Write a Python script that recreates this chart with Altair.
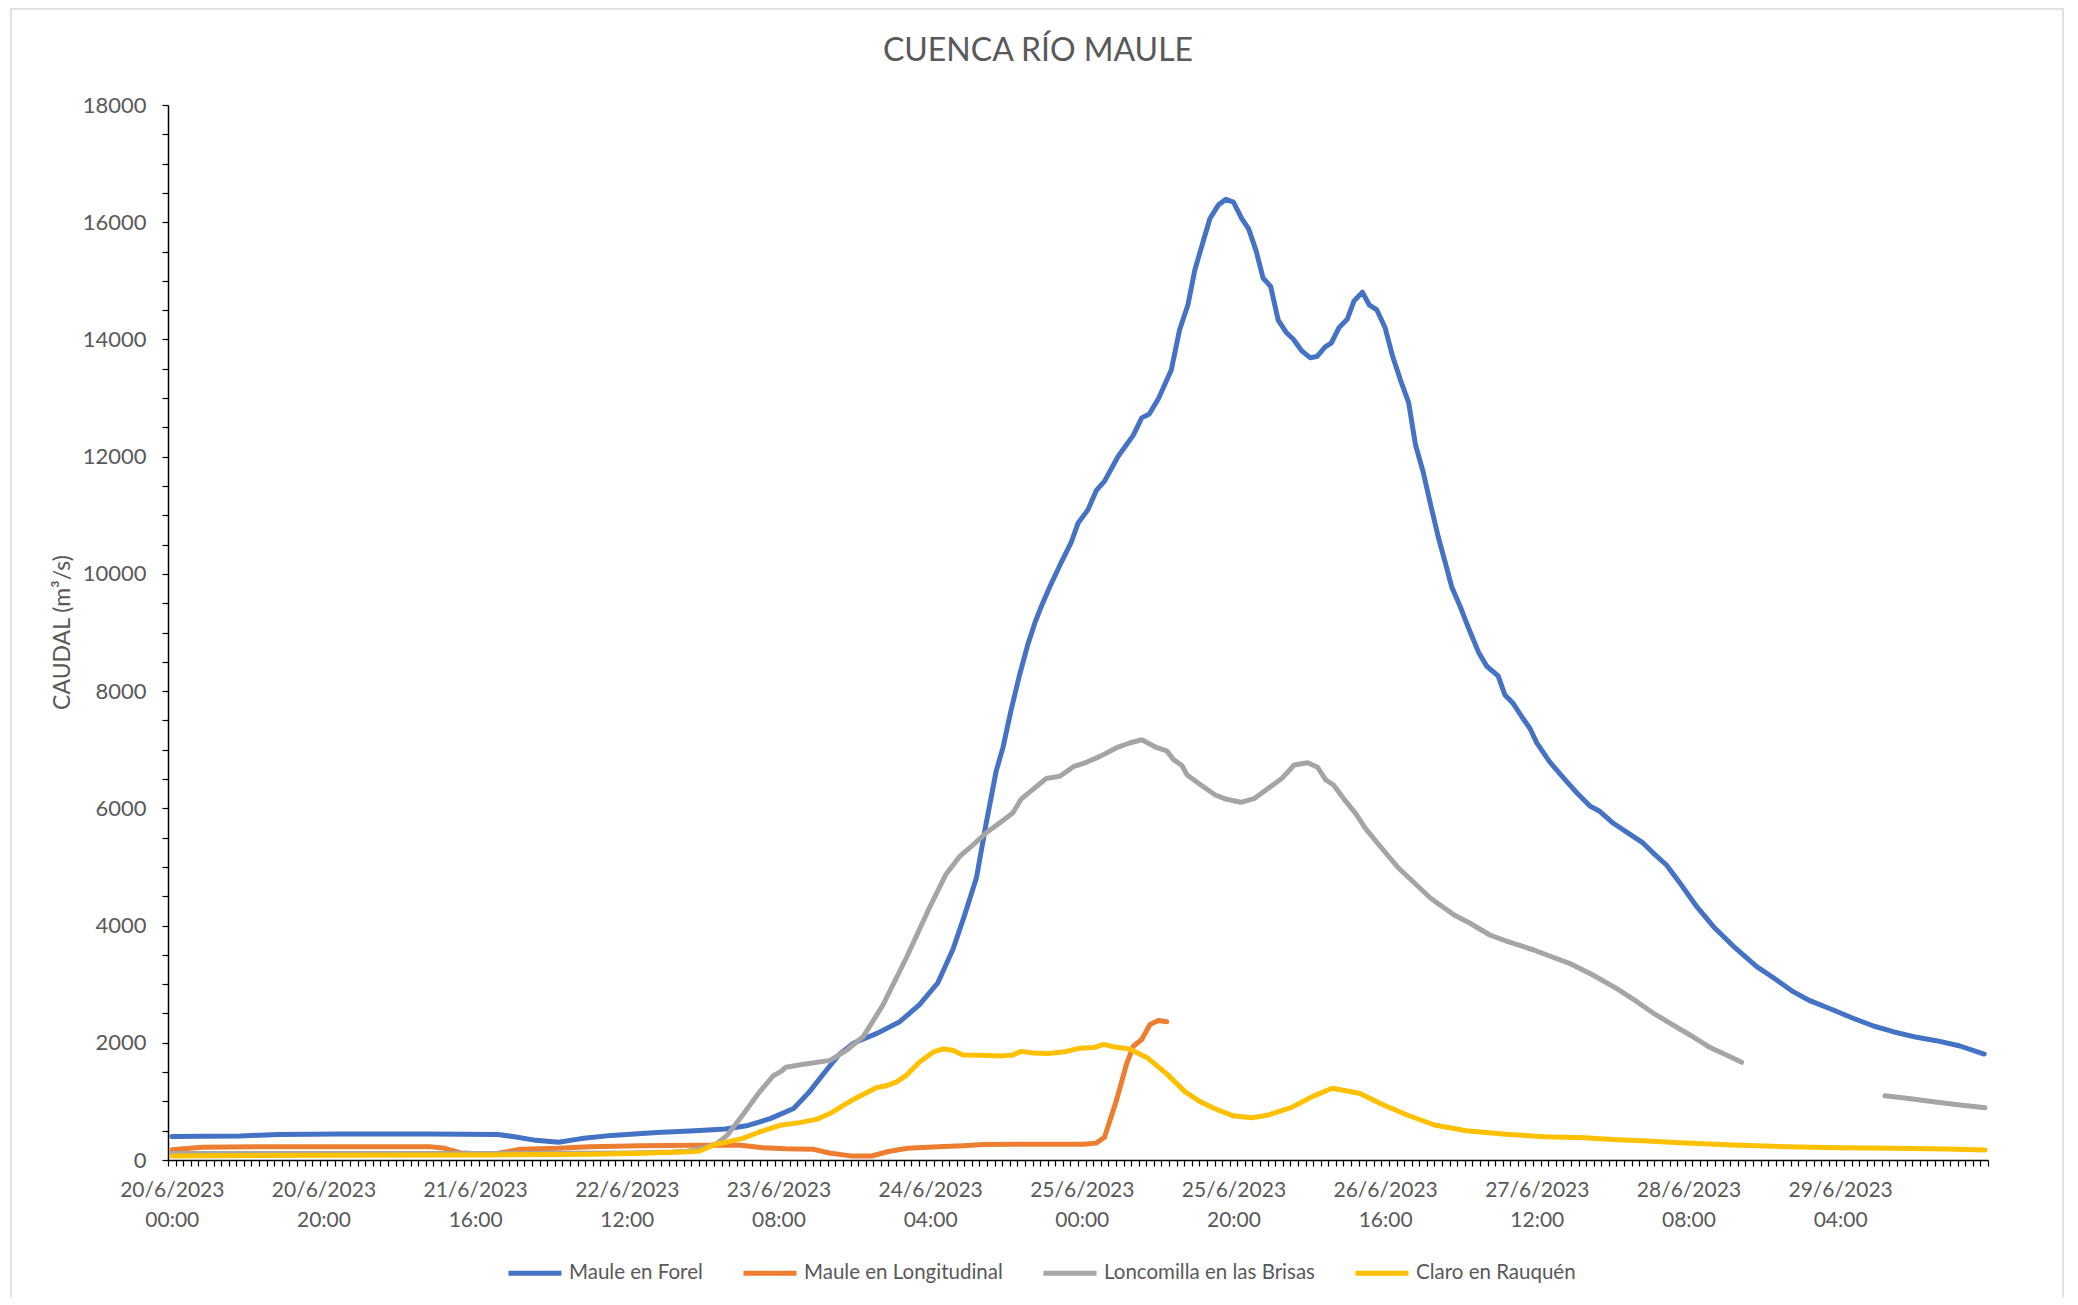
import json
import altair as alt
import pandas as pd

TITLE = "CUENCA RÍO MAULE"
Y_TITLE = "CAUDAL (m³/s)"
SERIES = ["Maule en Forel", "Maule en Longitudinal", "Loncomilla en las Brisas", "Claro en Rauquén"]
COLORS = ["#4472C4", "#ED7D31", "#A5A5A5", "#FFC000"]

# x tick labels (every 20 hourly categories)
X_LABEL_DATES = ["20/6/2023", "20/6/2023", "21/6/2023", "22/6/2023", "23/6/2023", "24/6/2023",
                 "25/6/2023", "25/6/2023", "26/6/2023", "27/6/2023", "28/6/2023", "29/6/2023"]
X_LABEL_TIMES = ["00:00", "20:00", "16:00", "12:00", "08:00", "04:00",
                 "00:00", "20:00", "16:00", "12:00", "08:00", "04:00"]

# hours since 20/6/2023 00:00  -> caudal (m3/s)
FOREL_H = [0, 9, 14, 22, 34, 43, 45, 48, 51, 54, 58, 64, 69, 73, 76, 79, 82, 84, 86, 88, 90, 93, 96,
           98.6, 101, 103, 104.6, 106.1, 107.4, 108.7, 109.6, 110.7, 111.8, 112.9, 113.9, 114.7, 115.8,
           117.1, 118.6, 119.5, 120.8, 121.9, 123, 124.8, 126.8, 127.9, 128.9, 130.1, 131.8, 132.9,
           134, 134.9, 136, 136.9, 138, 139, 140, 141.1, 142, 143, 143.9, 144.9, 145.9, 147, 147.9,
           149, 150.1, 151, 152.1, 152.9, 153.9, 155, 155.9, 157, 157.9, 158.9, 160, 161, 162, 163.1,
           164, 165, 166.1, 167, 168.1, 168.8, 169.9, 171, 172.3, 173.4, 174.9, 175.8, 176.9, 178,
           179.1, 180, 181.7, 183.9, 185.3, 187, 188.3, 190.1, 192.1, 194, 195.4, 197.1, 198.9, 201.1,
           203.3, 205.9, 209, 211.2, 213.8, 216, 219.1, 221.7, 224.4, 227, 230.1, 232.7, 235.8, 239]
FOREL_V = [400, 410, 435, 442, 442, 436, 400, 335, 302, 365, 420, 470, 500, 530, 590, 710, 880, 1150,
           1480, 1800, 2000, 2160, 2360, 2650, 3020, 3590, 4200, 4810, 5750, 6630, 7036, 7690, 8279,
           8802, 9195, 9457, 9784, 10144, 10536, 10863, 11092, 11419, 11582, 12007, 12367, 12662,
           12727, 12989, 13479, 14166, 14591, 15180, 15671, 16063, 16292, 16390, 16344, 16063, 15886,
           15507, 15049, 14905, 14330, 14114, 14003, 13806, 13689, 13708, 13872, 13937, 14199, 14343,
           14657, 14807, 14591, 14506, 14199, 13708, 13316, 12923, 12204, 11746, 11125, 10634, 10111,
           9771, 9444, 9076, 8669, 8424, 8261, 7934, 7787, 7567, 7362, 7118, 6791, 6465, 6262, 6040,
           5950, 5745, 5574, 5410, 5233, 5033, 4721, 4322, 3981, 3650, 3298, 3110, 2872, 2718, 2559,
           2418, 2286, 2189, 2093, 2036, 1945, 1808]

LONGIT_H = [0, 4, 12, 23, 34, 36, 38, 41, 43, 46, 51, 55, 62, 69, 75, 78, 81, 84.5, 86.7, 89.5, 92.3,
            94.5, 97, 101, 104.4, 107, 113.6, 120.2, 121.9, 123, 124.6, 125.9, 126.8, 127.9, 129,
            130.1, 131.2]
LONGIT_V = [175, 216, 228, 228, 228, 200, 125, 102, 114, 182, 200, 228, 245, 250, 250, 210, 190, 185,
            120, 70, 68, 145, 200, 225, 245, 265, 268, 268, 288, 389, 1030, 1638, 1942, 2056, 2312,
            2380, 2360]

LONCO_H1 = [0, 20, 40, 60, 66, 68, 70, 72, 73.3, 75.4, 77.5, 79.3, 80.3, 81, 83.1, 86.8, 89, 91.2,
            93.8, 96.9, 99.9, 102.1, 103.9, 105.7, 107.4, 109.2, 110.9, 112, 113.6, 115.3, 117.1,
            118.9, 120.6, 122.4, 124.6, 126.3, 127.9, 129.9, 131.2, 132.1, 133.2, 133.9, 135.7, 137.6,
            139.1, 141, 142.8, 144.6, 146.4, 148, 149.8, 151.1, 152.2, 153.2, 154.5, 156.1, 157.4,
            159.2, 161.8, 163.9, 166, 169.1, 171.2, 173.8, 176.2, 179.6, 181.7, 184.3, 187.4, 190.5,
            193.2, 195.4, 197.6, 200.2, 202.8, 205, 207]
LONCO_V1 = [110, 110, 110, 120, 135, 150, 200, 290, 430, 790, 1160, 1435, 1507, 1583, 1630, 1700,
            1873, 2109, 2650, 3459, 4301, 4876, 5180, 5381, 5584, 5753, 5921, 6158, 6327, 6509, 6548,
            6710, 6785, 6886, 7035, 7115, 7170, 7035, 6980, 6831, 6731, 6569, 6398, 6228, 6154, 6103,
            6171, 6342, 6512, 6739, 6779, 6700, 6483, 6398, 6171, 5915, 5659, 5375, 4977, 4721, 4466,
            4180, 4039, 3839, 3725, 3583, 3481, 3356, 3156, 2929, 2701, 2503, 2332, 2133, 1923, 1791,
            1667]
LONCO_H2 = [225.9, 228.8, 232.3, 235.8, 239.1]
LONCO_V2 = [1097, 1053, 995, 938, 892]

CLARO_H = [0, 20, 40, 55, 62, 68.3, 69.6, 71.8, 73, 75.3, 77.5, 80.2, 82.8, 85, 86.8, 88.5, 90.3,
           92.9, 94.2, 95.6, 96.9, 98.6, 100.4, 101.7, 103, 104.3, 107, 109.2, 110.9, 112, 113.6,
           115.8, 118, 119.7, 121.7, 122.9, 124.1, 126.3, 128.7, 131.2, 133.6, 135.6, 137.3, 138.2,
           139.9, 142.5, 144.6, 147.7, 150.4, 153, 156.6, 159.8, 162.9, 166.5, 170.7, 175.9, 181.1,
           186.3, 190, 194, 198.9, 205.9, 213, 220, 227, 234.1, 239.1]
CLARO_V = [70, 80, 85, 100, 115, 142, 154, 273, 300, 369, 478, 592, 638, 693, 793, 928, 1063, 1232,
           1266, 1334, 1449, 1672, 1839, 1894, 1873, 1793, 1786, 1773, 1793, 1853, 1826, 1819, 1853,
           1908, 1921, 1974, 1933, 1894, 1739, 1470, 1166, 996, 892, 841, 756, 722, 768, 899, 1081,
           1223, 1138, 938, 768, 597, 500, 438, 398, 381, 350, 330, 295, 256, 227, 210, 199, 188, 171]

rows = []
def add(name, seg, hs, vs):
    for h, v in zip(hs, vs):
        rows.append({"serie": name, "seg": seg, "h": h, "v": v})

add(SERIES[0], "a", FOREL_H, FOREL_V)
add(SERIES[1], "a", LONGIT_H, LONGIT_V)
add(SERIES[2], "a", LONCO_H1, LONCO_V1)
add(SERIES[2], "b", LONCO_H2, LONCO_V2)
add(SERIES[3], "a", CLARO_H, CLARO_V)
df = pd.DataFrame(rows)

FONT = "Lato"
TXT = "#595959"

label_expr = (
    "(datum.value + 0.5) % 20 == 0 && datum.value < 230 ? "
    f"[{json.dumps(X_LABEL_DATES)}[(datum.value + 0.5) / 20], "
    f"{json.dumps(X_LABEL_TIMES)}[(datum.value + 0.5) / 20]] : ''"
)

x_axis = alt.Axis(
    values=[k - 0.5 for k in range(241)],
    labelExpr=label_expr,
    labelOffset=3.8,
    title=None,
    grid=False,
    domainColor="black",
    domainWidth=1.5,
    tickColor="black",
    tickSize=6,
    tickWidth=1.2,
    labelFont=FONT,
    labelFontSize=21,
    labelColor=TXT,
    labelPadding=13,
    labelLineHeight=30,
    labelAlign="center",
    labelBaseline="top",
    labelOverlap=False,
    labelFlush=False,
    labelBound=False,
)

y_axis = alt.Axis(
    values=list(range(0, 18001, 500)),
    labelExpr="datum.value % 2000 == 0 ? datum.value : ''",
    grid=False,
    domainColor="black",
    domainWidth=1.5,
    tickColor="black",
    tickSize=6,
    tickWidth=1.2,
    labelFont=FONT,
    labelFontSize=22,
    labelColor=TXT,
    labelPadding=16,
    labelOverlap=False,
    labelBound=False,
    title=Y_TITLE,
    titleFont=FONT,
    titleFontSize=23,
    titleFontWeight="normal",
    titleColor=TXT,
    titleAngle=270,
    titleAlign="center",
    titleBaseline="middle",
    titleX=-106,
    titleY=527,
)

legend = alt.Legend(
    title=None,
    orient="none",
    legendX=338,
    legendY=1139,
    direction="horizontal",
    columns=4,
    symbolType="stroke",
    symbolSize=2809,
    symbolStrokeWidth=5,
    labelFont=FONT,
    labelFontSize=20.5,
    labelColor=TXT,
    labelOffset=5,
    labelLimit=0,
    columnPadding=30,
)

lines = (
    alt.Chart(df)
    .mark_line(strokeWidth=5, strokeCap="round", strokeJoin="round")
    .encode(
        x=alt.X("h:Q", scale=alt.Scale(domain=[-0.5, 239.5], nice=False, zero=False), axis=x_axis),
        y=alt.Y("v:Q", scale=alt.Scale(domain=[0, 18000], nice=False), axis=y_axis),
        color=alt.Color("serie:N", scale=alt.Scale(domain=SERIES, range=COLORS), legend=legend,
                        sort=SERIES),
        detail="seg:N",
        order="h:Q",
    )
)

# light chart-area frame, as in the spreadsheet export
frame = (
    alt.Chart(pd.DataFrame({"k": [0]}))
    .mark_rect(filled=False, stroke="#D9D9D9", strokeWidth=1.5)
    .encode(x=alt.value(-157), x2=alt.value(1895), y=alt.value(-96), y2=alt.value(1240))
)

chart = (
    alt.layer(frame, lines)
    .properties(
        width=1820,
        height=1055,
        title=alt.TitleParams(TITLE, font=FONT, fontSize=32, fontWeight="normal", color=TXT,
                              anchor="middle", frame="group", dx=-40, offset=25, dy=85),
        autosize=alt.AutoSizeParams(type="none"),
        padding={"left": 160, "top": 97, "right": 80, "bottom": 137},
        view=alt.ViewBackground(stroke="transparent", strokeOpacity=0, strokeWidth=0),
    )
    .configure_view(stroke="transparent", strokeOpacity=0, strokeWidth=0)
    .configure(background="white")
)

chart.save("out.html", embed_options={"renderer": "svg", "actions": False})
